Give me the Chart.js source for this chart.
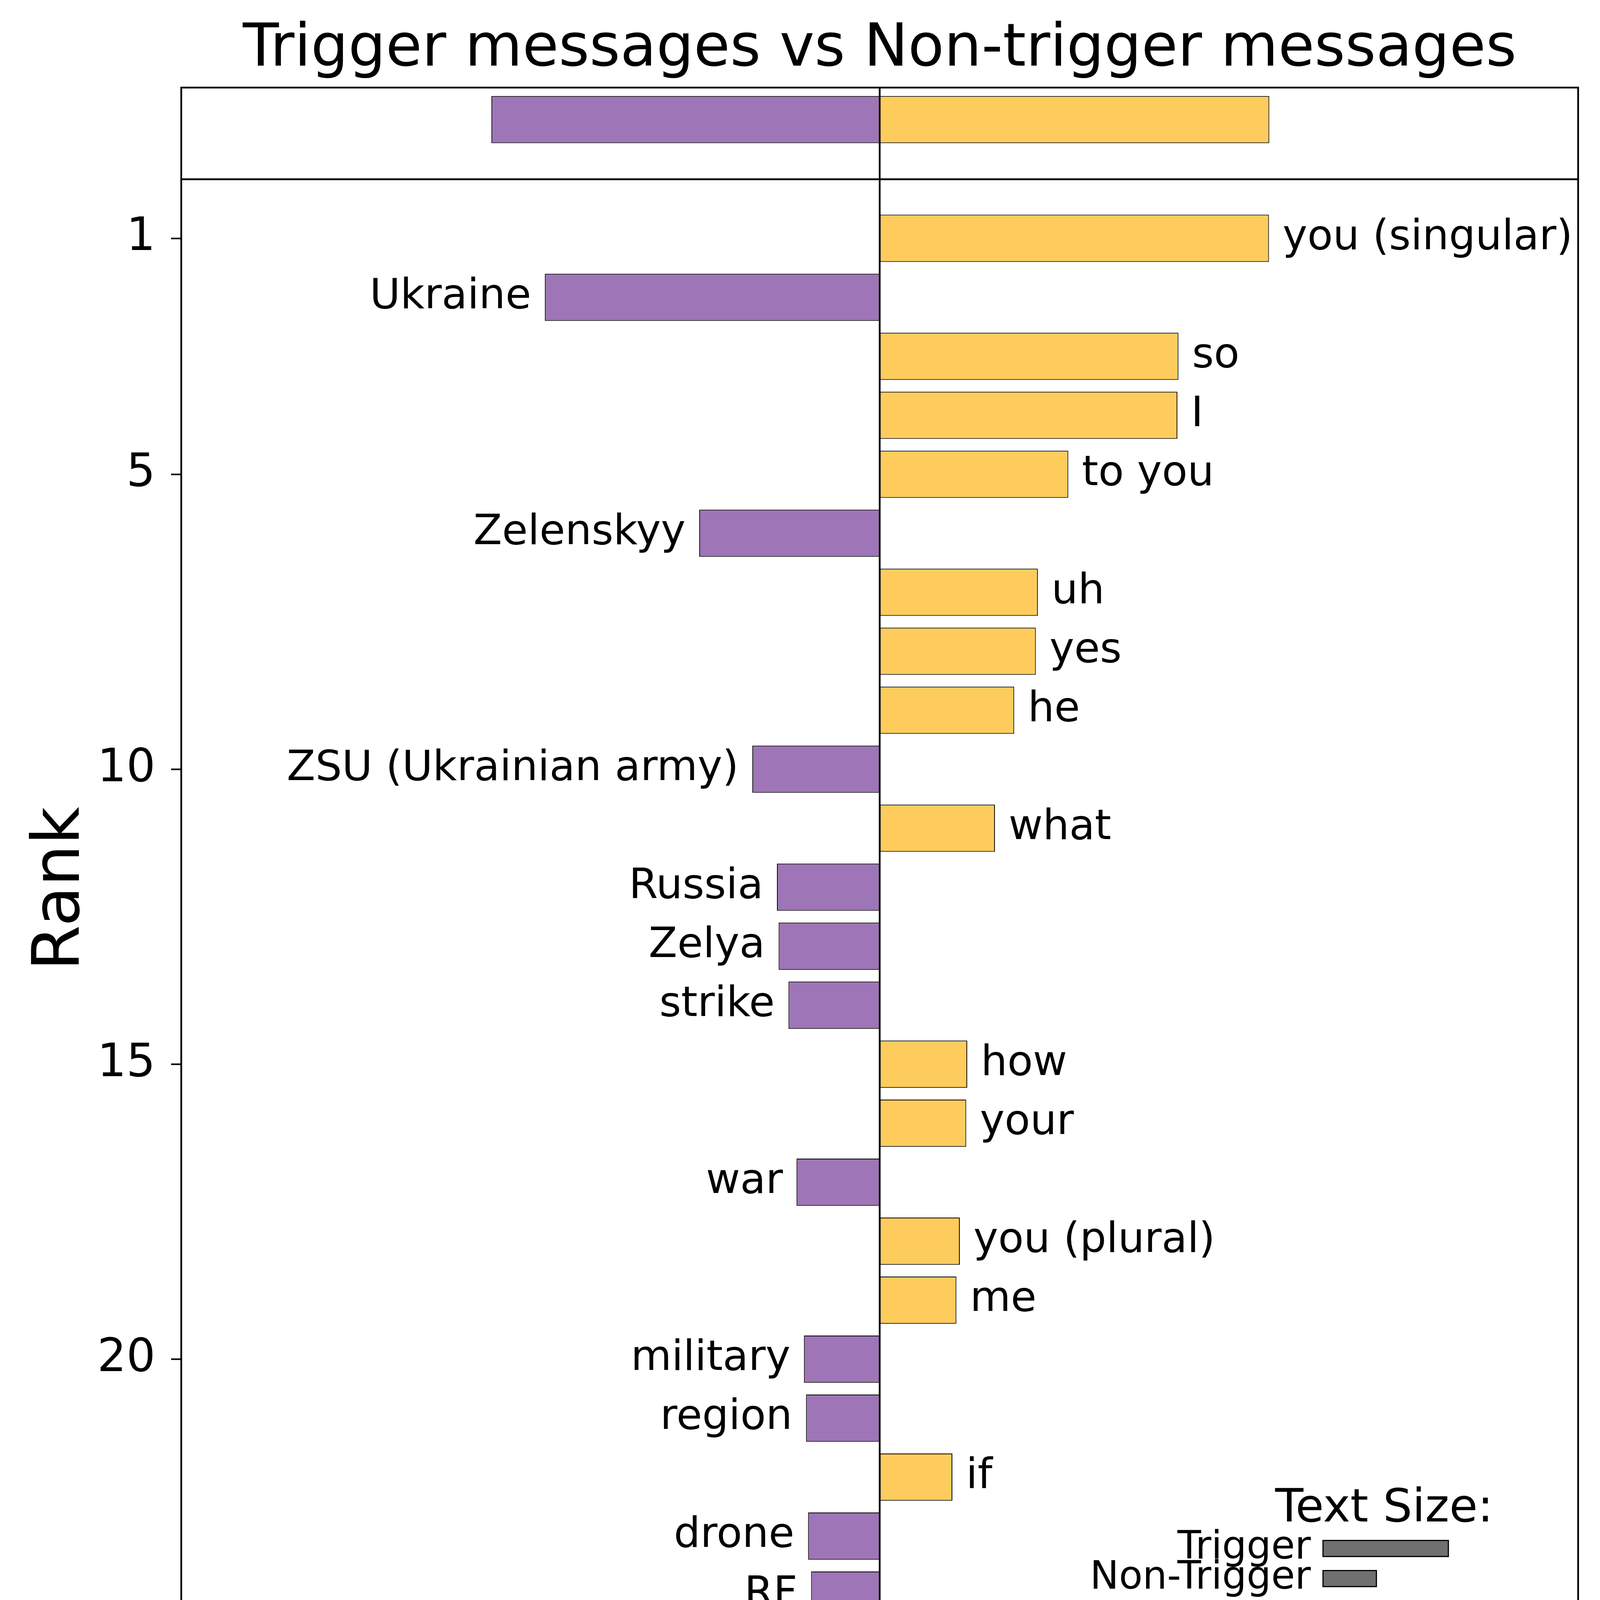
<!DOCTYPE html>
<html>
<head>
<meta charset="utf-8">
<title>Trigger messages vs Non-trigger messages</title>
<script src="https://cdn.jsdelivr.net/npm/chart.js@4.4.1/dist/chart.umd.min.js"></script>
<style>
  html, body { margin: 0; padding: 0; background: #fff; }
  #wrap { position: relative; width: 4114px; height: 4740px; }
  canvas { position: absolute; left: 0; top: 0; }
</style>
</head>
<body>
<div id="wrap">
  <canvas id="chartTotal" width="4114" height="459"></canvas>
  <canvas id="chartShift" width="4114" height="4740"></canvas>
</div>
<script>
// Word shift data (rank 1 at the top)
const words = [
  'you (singular)', 'Ukraine', 'so', 'I', 'to you', 'Zelenskyy', 'uh', 'yes', 'he',
  'ZSU (Ukrainian army)', 'what', 'Russia', 'Zelya', 'strike', 'how', 'your', 'war',
  'you (plural)', 'me', 'military', 'region', 'if', 'drone', 'RF', 'is'
];
const shifts = [
  1.152, -0.991, 0.884, 0.881, 0.558, -0.534, 0.468, 0.462, 0.398,
  -0.377, 0.341, -0.304, -0.299, -0.270, 0.259, 0.256, -0.246,
  0.237, 0.227, -0.224, -0.218, 0.215, -0.212, -0.203, 0.195
];
// Totals shown in the small panel on top
const totals = [-1.149, 1.153];

const rankTicks = [1, 5, 10, 15, 20, 25];
const xTicks = [-2.0, -1.5, -1.0, -0.5, 0.0, 0.5, 1.0, 1.5, 2.0];

// "Text Size:" inset
const sizeLabels = ['Trigger', 'Non-Trigger'];
const sizeBars = [0.371, 0.158];

const colorPos = '#FECC5D';
const colorNeg = '#9E75B7';
const xLimit = 2.067;

Chart.defaults.font.family = '"DejaVu Sans", sans-serif';
Chart.defaults.color = '#000';

function colorFor(v) {
  return v >= 0 ? colorPos : colorNeg;
}

// box around the plotting area
const framePlugin = {
  id: 'frame',
  afterDraw(chart) {
    const { ctx, chartArea } = chart;
    ctx.save();
    ctx.strokeStyle = '#000';
    ctx.lineWidth = 4.5;
    ctx.strokeRect(chartArea.left, chartArea.top, chartArea.right - chartArea.left, chartArea.bottom - chartArea.top);
    ctx.restore();
  }
};

// vertical line at zero
const zeroLinePlugin = {
  id: 'zeroLine',
  afterDatasetsDraw(chart) {
    const { ctx, chartArea } = chart;
    const x0 = chart.scales.x.getPixelForValue(0);
    ctx.save();
    ctx.strokeStyle = '#000';
    ctx.lineWidth = 4.5;
    ctx.beginPath();
    ctx.moveTo(x0, chartArea.top);
    ctx.lineTo(x0, chartArea.bottom);
    ctx.stroke();
    ctx.restore();
  }
};

// words written next to each bar
const wordLabelsPlugin = {
  id: 'wordLabels',
  afterDatasetsDraw(chart) {
    const ctx = chart.ctx;
    const meta = chart.getDatasetMeta(0);
    ctx.save();
    ctx.font = '107px "DejaVu Sans"';
    ctx.fillStyle = '#000';
    ctx.textBaseline = 'middle';
    meta.data.forEach(function(bar, i) {
      const right = shifts[i] >= 0;
      ctx.textAlign = right ? 'left' : 'right';
      ctx.fillText(words[i], bar.x + (right ? 35 : -35), bar.y);
    });
    ctx.restore();
  }
};

// "Text Size:" inset in the lower right
const textSizePlugin = {
  id: 'textSize',
  afterDraw(chart) {
    const ctx = chart.ctx;
    const sx = chart.scales.x;
    const sy = chart.scales.y;
    ctx.save();
    ctx.fillStyle = '#000';
    ctx.textBaseline = 'middle';
    ctx.textAlign = 'center';
    ctx.font = '118px "DejaVu Sans"';
    ctx.fillText('Text Size:', sx.getPixelForValue(1.493), sy.getPixelForValue(22.55));
    ctx.font = '99px "DejaVu Sans"';
    ctx.textAlign = 'right';
    const rows = [23.21, 23.72];
    sizeLabels.forEach(function(label, i) {
      const yc = sy.getPixelForValue(rows[i]);
      ctx.fillStyle = '#000';
      ctx.fillText(label, sx.getPixelForValue(1.276), yc);
      const x1 = sx.getPixelForValue(1.312);
      const x2 = sx.getPixelForValue(1.312 + sizeBars[i]);
      const h = sy.getPixelForValue(rows[i] + 0.136) - yc;
      ctx.fillStyle = '#707070';
      ctx.fillRect(x1, yc - h, x2 - x1, 2 * h);
      ctx.strokeStyle = '#000';
      ctx.lineWidth = 3;
      ctx.strokeRect(x1, yc - h, x2 - x1, 2 * h);
    });
    ctx.restore();
  }
};

// axis titles: "Rank" is centred on both panels, x title has a subscript tau
const axisTitlesPlugin = {
  id: 'axisTitles',
  afterDraw(chart) {
    const ctx = chart.ctx;
    const area = chart.chartArea;
    const size = 168;
    ctx.save();
    ctx.fillStyle = '#000';

    ctx.save();
    ctx.translate(202, 2275);
    ctx.rotate(-Math.PI / 2);
    ctx.font = size + 'px "DejaVu Sans"';
    ctx.textAlign = 'center';
    ctx.textBaseline = 'alphabetic';
    ctx.fillText('Rank', 0, 0);
    ctx.restore();

    const parts = [
      { text: 'Score shift ', font: size + 'px "DejaVu Sans"', dy: 0 },
      { text: 'δ', font: 'italic ' + size + 'px "DejaVu Sans"', dy: 0 },
      { text: 'Φ', font: size + 'px "DejaVu Sans"', dy: 0 },
      { text: 'τ', font: 'italic ' + Math.round(size * 0.7) + 'px "DejaVu Sans"', dy: 25 },
      { text: ' (%)', font: size + 'px "DejaVu Sans"', dy: 0 }
    ];
    ctx.textBaseline = 'alphabetic';
    ctx.textAlign = 'left';
    let total = 0;
    parts.forEach(function(p) { ctx.font = p.font; p.w = ctx.measureText(p.text).width; total += p.w; });
    let x = (area.left + area.right) / 2 + 15 - total / 2;
    const baseline = 4647;
    parts.forEach(function(p) {
      ctx.font = p.font;
      ctx.fillText(p.text, x, baseline + p.dy);
      x += p.w;
    });
    ctx.restore();
  }
};

// small top panel with the totals
new Chart(document.getElementById('chartTotal'), {
  type: 'bar',
  data: {
    datasets: [{
      data: totals.map(v => ({ x: v, y: 0.543 })),
      backgroundColor: totals.map(colorFor),
      borderColor: '#000',
      borderWidth: 2,
      borderSkipped: false,
      barPercentage: 0.8,
      categoryPercentage: 1
    }]
  },
  options: {
    indexAxis: 'y',
    responsive: false,
    animation: false,
    layout: { padding: { left: 464, right: 74, top: 0, bottom: 0 } },
    scales: {
      x: { type: 'linear', min: -xLimit, max: xLimit, display: false },
      y: {
        type: 'linear', reverse: true, min: 0, max: 1.556, display: false,
        offset: false,
        grid: { offset: false },
        afterBuildTicks: function(scale) { scale.ticks = [{ value: 0 }, { value: 1 }]; }
      }
    },
    plugins: {
      legend: { display: false },
      tooltip: { enabled: false },
      title: {
        display: true,
        text: 'Trigger messages vs Non-trigger messages',
        font: { size: 151, weight: 'normal' },
        color: '#000',
        padding: { top: 38, bottom: 5 }
      }
    }
  },
  plugins: [zeroLinePlugin, framePlugin]
});

// main word shift chart
new Chart(document.getElementById('chartShift'), {
  type: 'bar',
  data: {
    datasets: [{
      data: shifts.map((v, i) => ({ x: v, y: i + 1 })),
      backgroundColor: shifts.map(colorFor),
      borderColor: '#000',
      borderWidth: 2,
      borderSkipped: false,
      barPercentage: 0.8,
      categoryPercentage: 1
    }]
  },
  options: {
    indexAxis: 'y',
    responsive: false,
    animation: false,
    layout: { padding: { left: 0, right: 74, top: 459, bottom: 0 } },
    scales: {
      x: {
        type: 'linear',
        min: -xLimit,
        max: xLimit,
        afterBuildTicks: function(scale) { scale.ticks = xTicks.map(v => ({ value: v })); },
        afterFit: function(scale) { scale.height = 424; },
        grid: { display: true, drawOnChartArea: false, drawTicks: true, tickLength: 26, tickColor: '#000', tickWidth: 4 },
        border: { display: false },
        ticks: {
          font: { size: 117 },
          color: '#000',
          padding: 11,
          maxRotation: 0,
          callback: function(value) { return Number(value).toFixed(1); }
        }
      },
      y: {
        type: 'linear',
        reverse: true,
        min: 0,
        max: 25.54,
        offset: false,
        afterBuildTicks: function(scale) { scale.ticks = rankTicks.map(v => ({ value: v })); },
        afterFit: function(scale) { scale.width = 464; },
        grid: { display: true, offset: false, drawOnChartArea: false, drawTicks: true, tickLength: 26, tickColor: '#000', tickWidth: 4 },
        border: { display: false },
        ticks: { font: { size: 117 }, color: '#000', padding: 40 }
      }
    },
    plugins: {
      legend: { display: false },
      tooltip: { enabled: false }
    }
  },
  plugins: [zeroLinePlugin, wordLabelsPlugin, textSizePlugin, axisTitlesPlugin, framePlugin]
});
</script>
</body>
</html>
